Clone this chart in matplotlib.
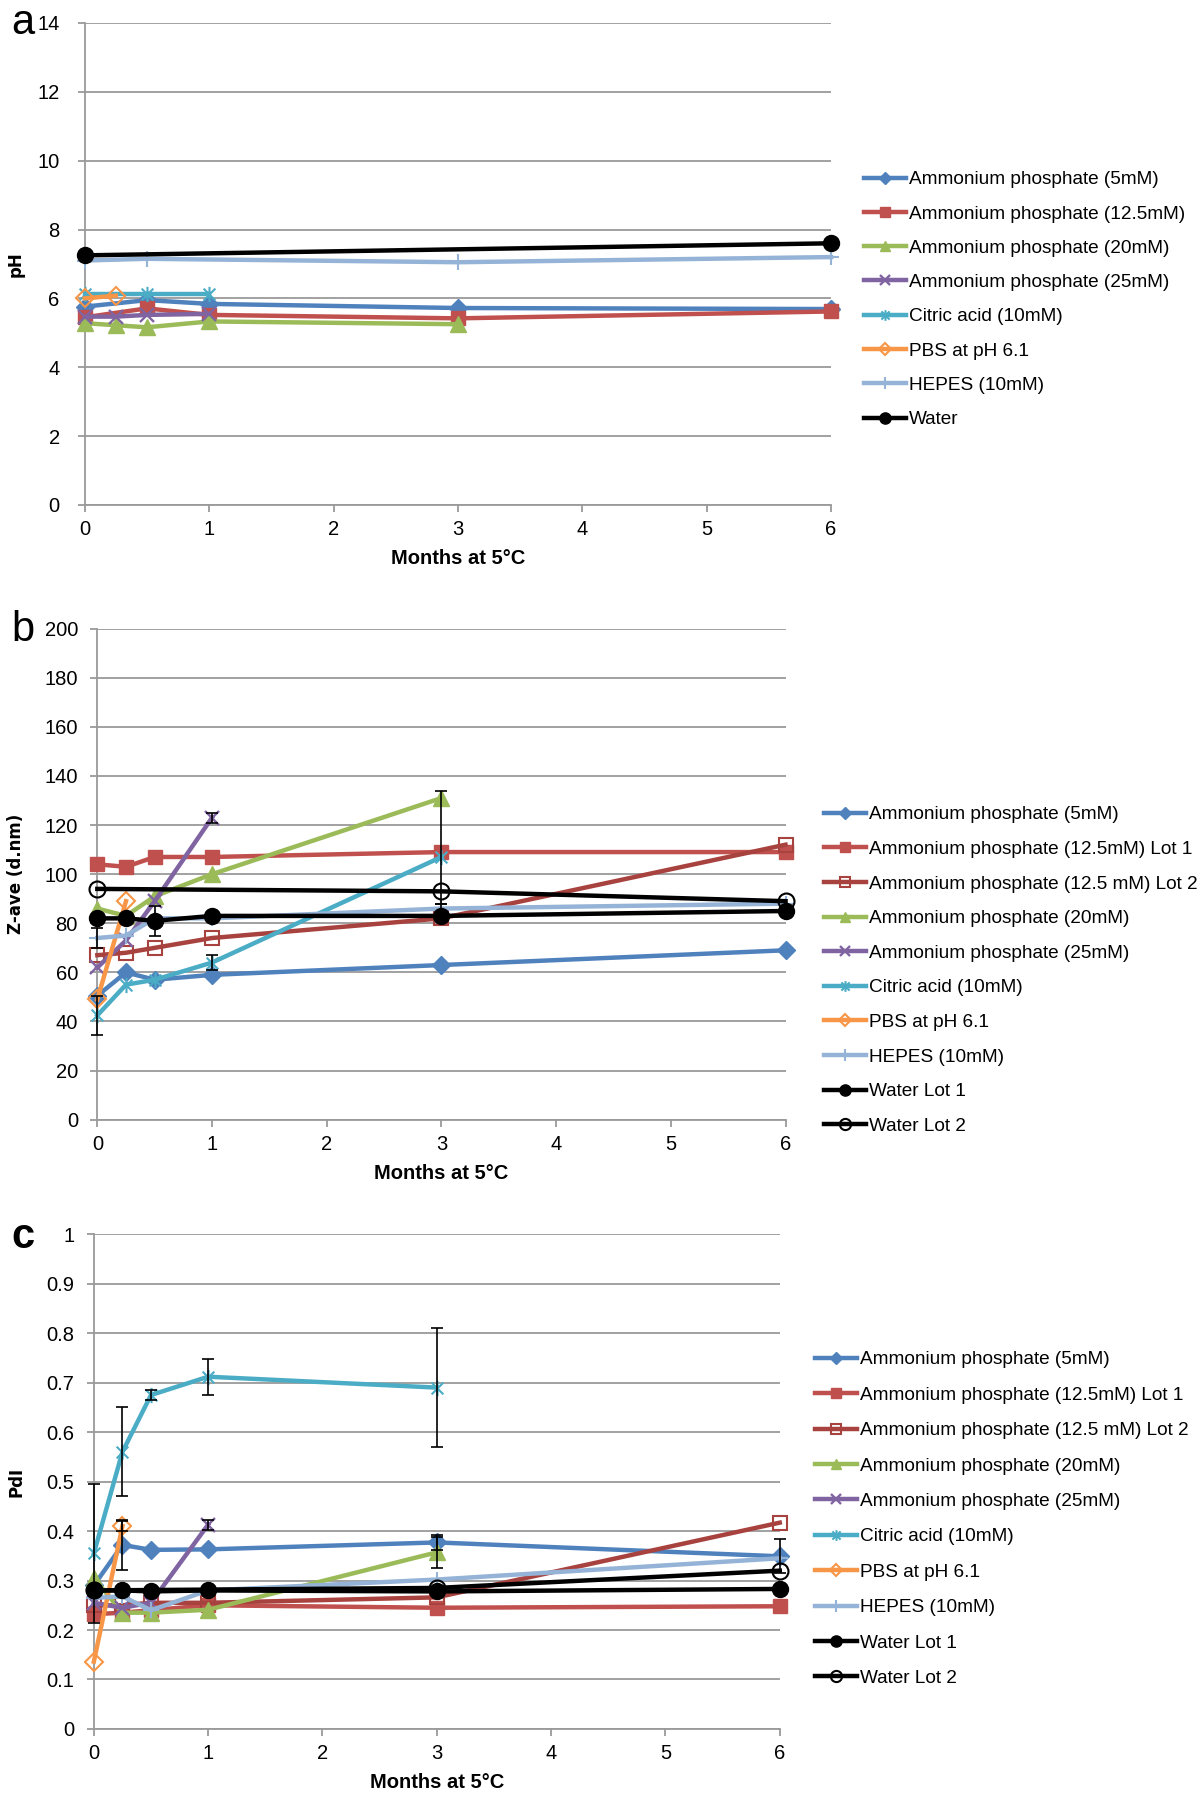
import matplotlib
matplotlib.use("Agg")
import matplotlib.pyplot as plt
import numpy as np
from matplotlib.path import Path

plt.rcParams['font.family'] = ['Liberation Sans', 'DejaVu Sans']

# ---- data ----
# panel a: pH
ph_ap5_t = [0, 0.5, 1, 3, 6]
ph_ap5 = [5.76, 5.95, 5.84, 5.72, 5.69]
ph_ap125_t = [0, 0.5, 1, 3, 6]
ph_ap125 = [5.45, 5.71, 5.52, 5.42, 5.62]
ph_ap20_t = [0, 0.25, 0.5, 1, 3]
ph_ap20 = [5.28, 5.22, 5.16, 5.33, 5.25]
ph_ap25_t = [0, 0.25, 0.5, 1]
ph_ap25 = [5.47, 5.47, 5.52, 5.55]
ph_citric_t = [0, 0.5, 1]
ph_citric = [6.13, 6.13, 6.13]
ph_pbs_t = [0, 0.25]
ph_pbs = [6.0, 6.08]
ph_hepes_t = [0, 0.5, 3, 6]
ph_hepes = [7.1, 7.15, 7.05, 7.2]
ph_water_t = [0, 6]
ph_water = [7.25, 7.6]

# panel b: Z-ave (d.nm)
z_ap5_t = [0, 0.25, 0.5, 1, 3, 6]
z_ap5 = [50.5, 60, 57, 59, 63, 69]
z_ap125_t = [0, 0.25, 0.5, 1, 3, 6]
z_ap125 = [104, 103, 107, 107, 109, 109]
z_ap125b_t = [0, 0.25, 0.5, 1, 3, 6]
z_ap125b = [67, 68, 70, 74, 82, 112]
z_ap20_t = [0, 0.25, 0.5, 1, 3]
z_ap20 = [86, 83, 91, 100, 131]
z_ap25_t = [0, 0.25, 0.5, 1]
z_ap25 = [62, 73, 89, 123]
z_citric_t = [0, 0.25, 0.5, 1, 3]
z_citric = [42.5, 55, 57, 64, 107]
z_pbs_t = [0, 0.25]
z_pbs = [49, 89]
z_hepes_t = [0, 0.25, 0.5, 1, 3, 6]
z_hepes = [74, 75, 82, 82, 86, 88]
z_water_t = [0, 0.25, 0.5, 1, 3, 6]
z_water = [82, 82, 81, 83, 83, 85]
z_water2_t = [0, 3, 6]
z_water2 = [94, 93, 89]

# panel b error bars: (series, time, lower, upper)
z_errors = [
    ('ap20', 3, 43, 3),
    ('ap25', 1, 2, 2),
    ('citric', 0, 8, 8),
    ('citric', 1, 3, 3),
    ('hepes', 0, 4, 4),
    ('hepes', 3, 2, 2),
    ('water', 0.5, 6, 6),
]

# panel c: PdI
p_ap5_t = [0, 0.25, 0.5, 1, 3, 6]
p_ap5 = [0.29, 0.372, 0.362, 0.363, 0.377, 0.349]
p_ap125_t = [0, 0.25, 0.5, 1, 3, 6]
p_ap125 = [0.232, 0.235, 0.24, 0.25, 0.245, 0.248]
p_ap125b_t = [0, 0.25, 0.5, 1, 3, 6]
p_ap125b = [0.25, 0.25, 0.255, 0.255, 0.266, 0.417]
p_ap20_t = [0, 0.25, 0.5, 1, 3]
p_ap20 = [0.305, 0.235, 0.235, 0.241, 0.357]
p_ap25_t = [0, 0.25, 0.5, 1]
p_ap25 = [0.255, 0.245, 0.255, 0.413]
p_citric_t = [0, 0.25, 0.5, 1, 3]
p_citric = [0.355, 0.56, 0.675, 0.712, 0.69]
p_pbs_t = [0, 0.25]
p_pbs = [0.136, 0.41]
p_hepes_t = [0, 0.25, 0.5, 1, 3, 6]
p_hepes = [0.265, 0.268, 0.24, 0.28, 0.302, 0.345]
p_water_t = [0, 0.25, 0.5, 1, 3, 6]
p_water = [0.28, 0.28, 0.278, 0.28, 0.278, 0.283]
p_water2_t = [0, 3, 6]
p_water2 = [0.28, 0.285, 0.32]

p_errors = [
    ('citric', 0, 0.14, 0.14),
    ('citric', 0.25, 0.09, 0.09),
    ('citric', 0.5, 0.01, 0.01),
    ('citric', 1, 0.036, 0.036),
    ('citric', 3, 0.12, 0.12),
    ('ap5', 0.25, 0.05, 0.05),
    ('ap5', 3, 0.015, 0.015),
    ('ap5', 6, 0.034, 0.034),
    ('pbs', 0.25, 0.01, 0.01),
    ('ap25', 1, 0.01, 0.01),
    ('ap20', 3, 0.032, 0.032),
]

labels_a = ['Ammonium phosphate (5mM)', 'Ammonium phosphate (12.5mM)',
            'Ammonium phosphate (20mM)', 'Ammonium phosphate (25mM)',
            'Citric acid (10mM)', 'PBS at pH 6.1', 'HEPES (10mM)', 'Water']
labels_bc = ['Ammonium phosphate (5mM)', 'Ammonium phosphate (12.5mM) Lot 1',
             'Ammonium phosphate (12.5 mM) Lot 2', 'Ammonium phosphate (20mM)',
             'Ammonium phosphate (25mM)', 'Citric acid (10mM)', 'PBS at pH 6.1',
             'HEPES (10mM)', 'Water Lot 1', 'Water Lot 2']

# ---- styles ----
star = Path([(-1, -1), (1, 1), (-1, 1), (1, -1), (0, -1.3), (0, 1.3)],
            [Path.MOVETO, Path.LINETO, Path.MOVETO, Path.LINETO, Path.MOVETO, Path.LINETO])

styles = {
    'ap5': dict(color='#4F81BD', marker='D', ms=9, mec='#4F81BD'),
    'ap125': dict(color='#C0504D', marker='s', ms=10.5, mec='#C0504D'),
    'ap125b': dict(color='#A8423F', marker='s', ms=10.5, mfc='none', mec='#A8423F', mew=1.5),
    'ap20': dict(color='#9BBB59', marker='^', ms=11, mec='#9BBB59'),
    'ap25': dict(color='#8064A2', marker='x', ms=9.5, mew=1.7),
    'citric': dict(color='#4BACC6', marker=star, ms=11, mew=1.5),
    'pbs': dict(color='#F79646', marker='D', ms=9, mfc='none', mec='#F79646', mew=1.5),
    'hepes': dict(color='#95B3D7', marker='+', ms=12, mew=1.5),
    'water': dict(color='black', marker='o', ms=11.5),
    'water2': dict(color='black', marker='o', ms=11.5, mfc='none', mew=1.5),
}

grid_col = '#9a9a9a'
tick_font = ['Liberation Sans Narrow', 'Liberation Sans', 'DejaVu Sans']


def draw_panel(ax, series, labels, errors, ymax, ystep, ylabel, ylab_x, ypad, leg_xy, lspace, ytickfmt):
    lines = []
    for key, t, v in series:
        st = dict(styles[key])
        ln, = ax.plot(t, v, lw=3.2, clip_on=False, zorder=3, **st)
        lines.append(ln)
    data = {key: (t, v) for key, t, v in series}
    for key, t0, lo, hi in errors:
        t, v = data[key]
        y0 = v[t.index(t0)]
        ax.errorbar([t0], [y0], yerr=[[lo], [hi]], fmt='none', ecolor='black',
                    elinewidth=1.2, capsize=4, capthick=1.2, zorder=4, clip_on=False)
    ax.set_xlim(0, 6)
    ax.set_ylim(0, ymax)
    ax.set_xticks(range(7))
    yt = np.arange(0, ymax + ystep / 2, ystep)
    ax.set_yticks(yt)
    ax.set_yticklabels([ytickfmt(y) for y in yt])
    ax.grid(axis='y', color=grid_col, lw=1.3)
    ax.set_axisbelow(True)
    for s in ['top', 'right']:
        ax.spines[s].set_visible(False)
    for s in ['left', 'bottom']:
        ax.spines[s].set_color(grid_col)
        ax.spines[s].set_linewidth(1.3)
    ax.tick_params(axis='both', color=grid_col, width=1.3, length=5, labelsize=14.5)
    ax.tick_params(axis='y', pad=ypad)
    ax.tick_params(axis='x', pad=6)
    for lab in ax.get_xticklabels() + ax.get_yticklabels():
        lab.set_family(tick_font)
    ax.set_ylabel(ylabel, fontsize=12, fontweight='bold', family='DejaVu Sans', va='center')
    ax.yaxis.set_label_coords(ylab_x, 0.5)
    ax.set_xlabel('Months at 5°C', fontsize=14.5, fontweight='bold', family=tick_font)
    h = ax.get_position().height * fig.get_figheight() * fig.dpi
    ax.xaxis.set_label_coords(0.5, -54 / h)
    ax.xaxis.label.set_va('center')
    ax.legend(lines, labels, loc='upper left', bbox_to_anchor=leg_xy,
              bbox_transform=fig.transFigure, frameon=False, fontsize=13.7,
              handlelength=2.2, handletextpad=0.15, labelspacing=lspace,
              borderpad=0, borderaxespad=0, markerscale=0.7)


fig = plt.figure(figsize=(12, 17.95), dpi=100)
ax_a = fig.add_axes([0.0706, 0.7187, 0.6926 - 0.0706, 0.9872 - 0.7187])
ax_b = fig.add_axes([0.0811, 0.3762, 0.6546 - 0.0811, 0.6498 - 0.3762])
ax_c = fig.add_axes([0.0782, 0.0368, 0.6498 - 0.0782, 0.3124 - 0.0368])

series_a = [('ap5', ph_ap5_t, ph_ap5), ('ap125', ph_ap125_t, ph_ap125),
            ('ap20', ph_ap20_t, ph_ap20), ('ap25', ph_ap25_t, ph_ap25),
            ('citric', ph_citric_t, ph_citric), ('pbs', ph_pbs_t, ph_pbs),
            ('hepes', ph_hepes_t, ph_hepes), ('water', ph_water_t, ph_water)]
series_b = [('ap5', z_ap5_t, z_ap5), ('ap125', z_ap125_t, z_ap125),
            ('ap125b', z_ap125b_t, z_ap125b), ('ap20', z_ap20_t, z_ap20),
            ('ap25', z_ap25_t, z_ap25), ('citric', z_citric_t, z_citric),
            ('pbs', z_pbs_t, z_pbs), ('hepes', z_hepes_t, z_hepes),
            ('water', z_water_t, z_water), ('water2', z_water2_t, z_water2)]
series_c = [('ap5', p_ap5_t, p_ap5), ('ap125', p_ap125_t, p_ap125),
            ('ap125b', p_ap125b_t, p_ap125b), ('ap20', p_ap20_t, p_ap20),
            ('ap25', p_ap25_t, p_ap25), ('citric', p_citric_t, p_citric),
            ('pbs', p_pbs_t, p_pbs), ('hepes', p_hepes_t, p_hepes),
            ('water', p_water_t, p_water), ('water2', p_water2_t, p_water2)]

draw_panel(ax_a, series_a, labels_a, [], 14, 2, 'pH', -0.092, 13,
           (0.72, 0.9047), 0.89, lambda y: f'{y:g}')
draw_panel(ax_b, series_b, labels_bc, z_errors, 200, 20, 'Z-ave (d.nm)', -0.118, 9,
           (0.6867, 0.5510), 0.91, lambda y: f'{y:g}')
draw_panel(ax_c, series_c, labels_bc, p_errors, 1, 0.1, 'PdI', -0.113, 9,
           (0.679, 0.2473), 0.95, lambda y: f'{y:.1f}'.rstrip('0').rstrip('.') if y in (0, 1) else f'{y:.1f}')

fig.text(0.0096, 0.9872, 'a', fontsize=30, va='center', ha='left')
fig.text(0.0096, 0.6490, 'b', fontsize=30, va='center', ha='left')
fig.text(0.0096, 0.3110, 'c', fontsize=30, va='center', ha='left', fontweight='bold')

fig.savefig('out.png', dpi=100)
